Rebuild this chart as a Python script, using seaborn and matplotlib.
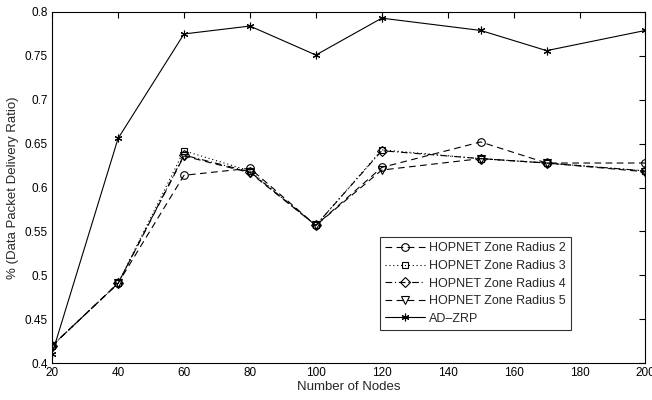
import matplotlib
matplotlib.use("Agg")
import matplotlib.pyplot as plt
import pandas as pd
import seaborn as sns

nodes = [20, 40, 60, 80, 100, 120, 150, 170, 200]

zr2 = [0.420, 0.491, 0.614, 0.622, 0.557, 0.623, 0.652, 0.628, 0.628]
zr3 = [0.420, 0.491, 0.642, 0.619, 0.557, 0.643, 0.633, 0.628, 0.619]
zr4 = [0.420, 0.491, 0.637, 0.618, 0.557, 0.642, 0.633, 0.628, 0.619]
zr5 = [0.420, 0.491, 0.636, 0.617, 0.557, 0.620, 0.633, 0.628, 0.618]
ad_zrp = [0.411, 0.656, 0.775, 0.784, 0.751, 0.793, 0.779, 0.756, 0.779]

series = [
    ("HOPNET Zone Radius 2", zr2, "o", 5.5, (0, (6, 4))),
    ("HOPNET Zone Radius 3", zr3, "s", 5, (0, (1, 2.5))),
    ("HOPNET Zone Radius 4", zr4, "D", 5, (0, (6, 2.5, 1, 2.5))),
    ("HOPNET Zone Radius 5", zr5, "v", 5.5, (0, (6, 4))),
    ("AD\u2013ZRP", ad_zrp, (6, 2, 0), 5.5, "-"),
]

sns.set_style("white")
plt.rcParams["font.family"] = ["Liberation Sans", "DejaVu Sans"]

fig, ax = plt.subplots(figsize=(6.52, 4.0), dpi=100)
fig.subplots_adjust(left=0.08, right=0.99, top=0.97, bottom=0.092)

for name, vals, marker, msize, ls in series:
    df = pd.DataFrame({"nodes": nodes, "pdr": vals})
    sns.lineplot(
        data=df, x="nodes", y="pdr", ax=ax, color="black",
        linewidth=0.8, linestyle=ls, marker=marker, markersize=msize,
        markerfacecolor="none", markeredgecolor="black",
        markeredgewidth=0.8, label=name,
    )

ax.set_xlim(20, 200)
ax.set_ylim(0.4, 0.8)
ax.set_xticks(range(20, 201, 20))
ax.set_yticks([0.4, 0.45, 0.5, 0.55, 0.6, 0.65, 0.7, 0.75, 0.8])
ax.set_yticklabels(["0.4", "0.45", "0.5", "0.55", "0.6", "0.65", "0.7", "0.75", "0.8"])
ax.tick_params(direction="in", top=True, right=True, length=4, width=0.8,
               labelsize=8.5, colors="black", pad=3)
for sp in ax.spines.values():
    sp.set_color("black")
    sp.set_linewidth(0.8)

ax.set_xlabel("Number of Nodes", fontsize=9.5, labelpad=1)
ax.set_ylabel("% (Data Packet Delivery Ratio)", fontsize=9.5, labelpad=4)

leg = ax.legend(loc="lower right", bbox_to_anchor=(0.874, 0.095), fontsize=9,
                frameon=True, fancybox=False, edgecolor="black",
                handlelength=3.2, handletextpad=0.3, borderpad=0.4,
                labelspacing=0.45, borderaxespad=0)
leg.get_frame().set_linewidth(0.8)

fig.savefig("out.png", dpi=100)
